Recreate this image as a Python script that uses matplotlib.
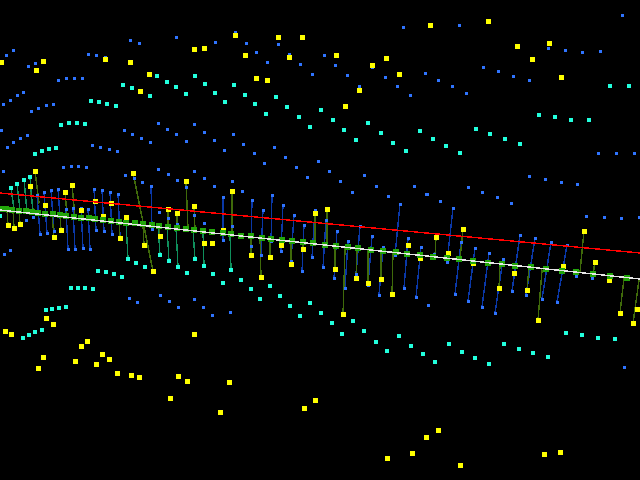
#!/usr/bin/env python3
"""
Point cloud with fitted plane, read off the picture in pixel coordinates
"""

import matplotlib
matplotlib.use('Agg')
import matplotlib.pyplot as plt
from matplotlib.collections import LineCollection

yellow_pts = [
    (1, 62), (43, 61), (36, 70), (105, 59), (130, 62), (149, 74), (140, 91), (194, 49), (204, 48),
    (235, 35), (245, 55), (256, 78), (267, 80), (278, 37), (302, 37), (289, 57), (336, 55), (386, 58),
    (372, 65), (399, 74), (359, 90), (345, 106), (430, 25), (488, 21), (517, 46), (549, 43), (532, 59),
    (561, 77), (5, 331), (11, 334), (46, 318), (53, 324), (43, 357), (38, 368), (87, 341), (81, 346),
    (75, 361), (102, 354), (109, 359), (96, 364), (117, 373), (131, 375), (139, 377), (194, 334),
    (178, 376), (187, 381), (229, 382), (170, 398), (220, 412), (304, 408), (315, 400), (438, 430),
    (426, 437), (412, 453), (387, 458), (460, 465), (544, 454), (560, 452), (35, 171), (30, 186),
    (72, 185), (65, 192), (45, 205), (95, 201), (111, 203), (81, 210), (103, 216), (126, 217),
    (133, 173), (186, 181), (194, 206), (177, 213), (168, 209), (8, 225), (14, 228), (20, 224),
    (61, 230), (54, 237), (120, 238), (144, 245), (160, 236), (153, 271), (204, 243), (212, 243),
    (25, 211), (232, 191), (315, 213), (327, 209), (223, 230), (241, 236), (251, 255), (261, 277),
    (270, 257), (281, 245), (291, 264), (303, 249), (335, 269), (343, 314), (356, 278), (368, 283),
    (381, 279), (392, 294), (408, 245), (420, 258), (436, 237), (463, 229), (448, 253), (473, 263),
    (499, 288), (514, 273), (527, 290), (538, 320), (563, 266), (584, 231), (595, 262), (609, 280),
    (620, 313), (633, 323), (637, 309),
]

teal_pts = [
    (157, 76), (123, 85), (132, 88), (167, 82), (176, 87), (186, 94), (150, 96), (195, 76), (205, 84),
    (215, 93), (225, 102), (234, 85), (245, 95), (255, 104), (266, 114), (276, 97), (287, 107),
    (299, 117), (310, 127), (321, 110), (91, 101), (99, 102), (107, 104), (116, 106), (61, 125),
    (69, 123), (77, 123), (85, 124), (35, 154), (42, 151), (49, 149), (56, 148), (333, 120), (344, 130),
    (356, 140), (368, 123), (381, 133), (393, 143), (406, 151), (420, 131), (433, 139), (446, 146),
    (460, 153), (476, 129), (490, 134), (505, 139), (520, 144), (539, 115), (555, 117), (571, 120),
    (589, 120), (610, 86), (629, 86), (11, 188), (17, 184), (24, 180), (30, 177), (0, 216), (128, 259),
    (136, 263), (145, 267), (160, 255), (169, 261), (178, 267), (187, 273), (195, 259), (204, 266),
    (213, 274), (98, 271), (106, 272), (114, 274), (122, 277), (71, 288), (78, 288), (85, 288),
    (93, 289), (46, 310), (52, 309), (59, 308), (66, 307), (23, 338), (29, 335), (35, 332), (42, 330),
    (231, 270), (223, 283), (241, 280), (251, 289), (260, 299), (270, 286), (280, 296), (290, 306),
    (300, 316), (310, 303), (321, 313), (332, 323), (342, 334), (353, 321), (364, 331), (376, 342),
    (387, 351), (399, 336), (411, 346), (423, 354), (435, 362), (449, 344), (462, 352), (475, 358),
    (489, 364), (504, 344), (519, 349), (533, 353), (548, 357), (566, 333), (582, 335), (598, 338),
    (615, 339), (637, 310),
]

blue_pts = [
    (13, 50), (6, 55), (35, 63), (28, 66), (23, 92), (17, 95), (10, 100), (3, 104), (58, 80), (66, 78),
    (74, 78), (82, 78), (53, 104), (46, 105), (38, 108), (31, 111), (88, 54), (96, 55), (105, 57),
    (130, 40), (139, 43), (176, 37), (215, 42), (246, 43), (235, 32), (256, 52), (267, 62), (278, 44),
    (289, 54), (300, 64), (312, 74), (1, 130), (27, 135), (20, 138), (13, 142), (7, 147), (92, 145),
    (100, 147), (109, 149), (117, 151), (124, 130), (132, 134), (141, 138), (150, 142), (158, 123),
    (167, 129), (176, 134), (186, 141), (194, 124), (204, 132), (214, 140), (224, 150), (233, 134),
    (243, 144), (254, 153), (264, 163), (274, 147), (285, 157), (296, 167), (318, 161), (403, 27),
    (459, 25), (622, 15), (324, 55), (335, 65), (347, 75), (359, 86), (372, 67), (385, 77), (397, 86),
    (410, 95), (425, 73), (438, 80), (452, 86), (466, 93), (483, 67), (498, 71), (513, 76), (529, 80),
    (548, 48), (565, 50), (582, 52), (600, 51), (598, 153), (616, 153), (634, 153), (529, 176),
    (545, 179), (561, 182), (577, 184), (329, 171), (340, 181), (352, 192), (364, 175), (376, 186),
    (388, 196), (414, 186), (426, 194), (468, 187), (482, 192), (497, 197), (3, 171), (63, 167),
    (71, 166), (78, 166), (86, 167), (125, 175), (158, 169), (168, 174), (194, 171), (204, 178),
    (177, 180), (134, 178), (142, 182), (151, 186), (186, 187), (94, 189), (102, 190), (110, 192),
    (118, 194), (44, 192), (51, 190), (58, 189), (37, 195), (66, 209), (73, 208), (81, 208), (88, 209),
    (159, 212), (168, 218), (177, 224), (194, 215), (204, 223), (135, 221), (152, 229), (96, 230),
    (104, 231), (112, 234), (40, 234), (47, 233), (54, 231), (26, 220), (33, 217), (68, 249), (75, 249),
    (83, 248), (90, 249), (10, 250), (4, 254), (129, 298), (137, 302), (160, 295), (169, 301), (178, 307),
    (194, 299), (203, 307), (212, 315), (230, 312), (214, 186), (232, 181), (242, 191), (307, 177),
    (223, 197), (223, 240), (252, 200), (263, 210), (272, 195), (283, 205), (294, 215), (304, 225),
    (315, 210), (326, 220), (337, 231), (348, 241), (360, 226), (372, 236), (383, 247), (400, 204),
    (408, 238), (421, 247), (232, 226), (251, 246), (261, 255), (271, 241), (281, 251), (291, 261),
    (302, 271), (312, 257), (323, 267), (334, 278), (345, 288), (356, 274), (368, 285), (379, 295),
    (395, 255), (404, 288), (416, 297), (427, 194), (440, 201), (511, 203), (453, 208), (586, 216),
    (604, 217), (621, 218), (639, 217), (461, 242), (475, 248), (489, 253), (503, 259), (520, 235),
    (535, 238), (551, 242), (567, 245), (434, 254), (447, 262), (455, 294), (468, 301), (482, 307),
    (495, 313), (512, 291), (526, 295), (542, 299), (557, 302), (576, 276), (592, 278), (428, 305),
    (624, 367),
]

blue_lines = [
    ((37, 195), (40, 234)), ((44, 192), (47, 233)), ((51, 190), (54, 231)), ((58, 189), (61, 230)),
    ((66, 209), (68, 249)), ((73, 208), (75, 249)), ((81, 208), (83, 248)), ((88, 209), (90, 249)),
    ((94, 189), (96, 230)), ((102, 190), (104, 231)), ((110, 192), (112, 234)), ((118, 194), (120, 236)),
    ((151, 186), (152, 229)), ((223, 197), (223, 240)), ((252, 200), (251, 246)), ((263, 210), (261, 255)),
    ((272, 195), (271, 241)), ((283, 205), (281, 251)), ((294, 215), (291, 261)), ((304, 225), (302, 271)),
    ((315, 210), (312, 257)), ((326, 220), (323, 267)), ((337, 231), (334, 278)), ((348, 241), (345, 288)),
    ((360, 226), (356, 274)), ((372, 236), (368, 285)), ((383, 247), (379, 295)), ((400, 204), (395, 255)),
    ((408, 238), (404, 288)), ((421, 247), (416, 297)), ((453, 208), (447, 262)), ((461, 242), (455, 294)),
    ((475, 248), (468, 301)), ((489, 253), (482, 307)), ((503, 259), (495, 313)), ((520, 235), (512, 291)),
    ((535, 238), (526, 295)), ((551, 242), (542, 299)), ((567, 245), (557, 302)),
]

olive_lines = [
    ((35, 171), (39, 203)), ((30, 186), (33, 210)), ((72, 185), (75, 217)), ((65, 192), (67, 215)),
    ((133, 173), (153, 271)), ((186, 181), (188, 229)), ((194, 206), (195, 230)), ((177, 213), (177, 227)),
    ((168, 209), (168, 225)), ((8, 225), (7, 210)), ((14, 228), (13, 210)), ((20, 224), (19, 210)),
    ((54, 237), (52, 215)), ((61, 230), (60, 215)), ((120, 238), (119, 222)), ((144, 245), (143, 225)),
    ((160, 236), (159, 225)), ((232, 191), (232, 234)), ((315, 213), (315, 243)), ((327, 209), (327, 243)),
    ((251, 255), (251, 236)), ((261, 277), (260, 236)), ((270, 257), (270, 240)), ((291, 264), (291, 241)),
    ((303, 249), (303, 242)), ((335, 269), (335, 246)), ((343, 314), (345, 249)), ((356, 278), (357, 248)),
    ((368, 283), (368, 250)), ((381, 279), (381, 251)), ((392, 294), (393, 252)), ((436, 237), (435, 256)),
    ((463, 229), (460, 259)), ((499, 288), (500, 264)), ((527, 290), (529, 267)), ((538, 320), (542, 270)),
    ((584, 231), (580, 272)), ((595, 262), (593, 274)), ((620, 313), (624, 278)), ((633, 323), (639, 280)),
]

teal_lines = [
    ((11, 188), (14, 209)), ((17, 184), (20, 210)), ((24, 180), (27, 212)), ((30, 177), (33, 214)),
    ((128, 259), (126, 222)), ((160, 255), (158, 225)), ((169, 261), (167, 227)), ((178, 267), (176, 228)),
    ((195, 259), (193, 230)), ((204, 266), (203, 232)), ((231, 270), (230, 234)),
]

plane_pts = [
    (1, 209), (6, 209), (12, 210), (19, 211), (26, 211), (32, 212), (38, 213), (45, 214), (53, 214),
    (60, 215), (66, 216), (74, 217), (81, 218), (89, 218), (95, 219), (103, 220), (111, 221), (119, 222),
    (126, 223), (135, 223), (143, 224), (152, 225), (159, 226), (168, 227), (177, 228), (186, 229),
    (194, 230), (203, 231), (212, 232), (223, 233), (231, 234), (241, 236), (251, 236), (262, 238),
    (271, 239), (282, 240), (292, 241), (303, 242), (313, 243), (325, 245), (336, 246), (348, 247),
    (358, 248), (371, 250), (383, 251), (396, 252), (407, 254), (420, 255), (433, 257), (447, 258),
    (459, 259), (473, 261), (488, 263), (502, 264), (515, 266), (531, 267), (546, 269), (562, 271),
    (576, 272), (593, 274), (610, 276), (627, 278),
]

red_line = [(0, 193), (640, 253)]
white_line = [(0, 210), (640, 279)]

THIN = 0.25  # aliased lines stay 1 px wide only at small widths


def draw_pts(ax, pts, size_px, color, z):
    # marker size is given in points, figure is 100 dpi
    s = (size_px * 72 / 100) ** 2
    ax.scatter([p[0] for p in pts], [p[1] for p in pts], s=s, marker='s', c=color,
               linewidths=0, antialiaseds=False, zorder=z)


fig = plt.figure(figsize=(6.4, 4.8), dpi=100, facecolor='black')
ax = fig.add_axes([0, 0, 1, 1])
ax.set_facecolor('black')
ax.set_xlim(0, 640)
ax.set_ylim(480, 0)
ax.axis('off')

# verticals go under the points
ax.add_collection(LineCollection(blue_lines, colors='#0a38a8', linewidths=THIN, antialiaseds=False, zorder=1))
ax.add_collection(LineCollection(olive_lines, colors='#3f6a0a', linewidths=THIN, antialiaseds=False, zorder=1))
ax.add_collection(LineCollection(teal_lines, colors='#0f8f5c', linewidths=THIN, antialiaseds=False, zorder=1))

draw_pts(ax, blue_pts, 3.0, '#2f74ff', 2)
draw_pts(ax, teal_pts, 4.5, '#22ffdd', 3)
draw_pts(ax, yellow_pts, 5.0, '#ffff00', 4)
draw_pts(ax, plane_pts, 6.2, '#22a60a', 5)

ax.plot(*zip(*white_line), color='#e6e6e6', lw=THIN, antialiased=False, zorder=6)
ax.plot(*zip(*red_line), color='#ff0000', lw=THIN, antialiased=False, zorder=7)

plt.savefig('out.png', dpi=100, facecolor='black')
